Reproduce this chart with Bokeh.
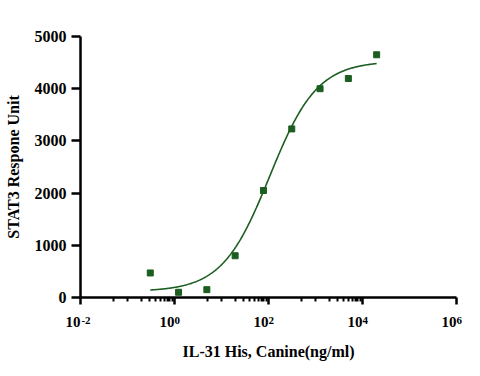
import numpy as np
from bokeh.plotting import figure
from bokeh.models import FixedTicker, Range1d, LogAxis
from bokeh.embed import file_html
from bokeh.resources import INLINE

# data
conc = [0.305, 1.22, 4.88, 19.5, 78.1, 312.5, 1250, 5000, 20000]
resp = [470, 100, 150, 800, 2050, 3230, 4000, 4195, 4650]

# 4PL fit parameters
fit_bottom = 115
fit_top = 4530
fit_ec50 = 106
fit_hill = 0.86

x_major = [1e-2, 1e0, 1e2, 1e4, 1e6]
x_exponents = ["-2", "0", "2", "4", "6"]
y_major = [0, 1000, 2000, 3000, 4000, 5000]

minor_mult = [5, 10, 20, 30, 40, 50, 60, 70, 80, 90]
x_minor = [m * b for b in [1e-2, 1e0, 1e2, 1e4] for m in [v / 100 for v in minor_mult]]

FONT = "Liberation Serif"
GREEN = "#1b5e20"
NBSP = "\u00a0"

p = figure(width=480, height=376, x_axis_type="log",
           x_range=Range1d(1e-2, 1e6), y_range=Range1d(0, 5000),
           output_backend="svg", toolbar_location=None,
           min_border_left=80, min_border_right=24,
           min_border_top=36, min_border_bottom=79)
p.outline_line_color = None
p.xgrid.visible = False
p.ygrid.visible = False

# fitted curve
xc = np.logspace(np.log10(conc[0]), np.log10(conc[-1]), 300)
yc = fit_bottom + (fit_top - fit_bottom) / (1 + (fit_ec50 / xc) ** fit_hill)
p.line(xc, yc, line_color=GREEN, line_width=1.6)

p.scatter(conc, resp, marker="square", size=6, fill_color=GREEN, line_color=GREEN)

# x axis: ticks + superscript exponents (left-aligned after the tick)
xa = p.xaxis[0]
xa.ticker = FixedTicker(ticks=x_major, minor_ticks=x_minor)
xa.major_label_overrides = {t: NBSP * (2 * len(e)) + e for t, e in zip(x_major, x_exponents)}
xa.axis_line_width = 2.5
xa.axis_line_color = "black"
xa.major_tick_line_width = 2.5
xa.minor_tick_line_width = 2
xa.major_tick_in = 0
xa.minor_tick_in = 0
xa.major_tick_out = 7
xa.minor_tick_out = 4
xa.major_label_standoff = 9
xa.major_label_text_font = FONT
xa.major_label_text_font_style = "bold"
xa.major_label_text_font_size = "11px"
xa.major_label_text_color = "black"

# second x axis: the base "10" (right-aligned on the tick) and the axis title
xb = LogAxis(ticker=FixedTicker(ticks=x_major, minor_ticks=[]))
xb.major_label_overrides = {t: "10" + NBSP * 4 for t in x_major}
xb.axis_line_color = None
xb.major_tick_line_color = None
xb.minor_tick_line_color = None
xb.major_tick_out = 0
xb.minor_tick_out = 0
xb.major_label_standoff = -15
xb.major_label_text_font = FONT
xb.major_label_text_font_style = "bold"
xb.major_label_text_font_size = "15px"
xb.major_label_text_color = "black"
xb.axis_label = "IL-31 His, Canine(ng/ml)"
xb.axis_label_standoff = 10
xb.axis_label_text_font = FONT
xb.axis_label_text_font_style = "bold"
xb.axis_label_text_font_size = "16px"
xb.axis_label_text_color = "black"
p.add_layout(xb, "below")

ya = p.yaxis[0]
ya.ticker = FixedTicker(ticks=y_major)
ya.axis_label = "STAT3 Respone Unit"
ya.axis_line_width = 2.5
ya.axis_line_color = "black"
ya.major_tick_line_width = 2.5
ya.major_tick_in = 0
ya.major_tick_out = 9
ya.minor_tick_out = 0
ya.minor_tick_in = 0
ya.major_label_standoff = 5
ya.major_label_text_font = FONT
ya.major_label_text_font_style = "bold"
ya.major_label_text_font_size = "16px"
ya.major_label_text_color = "black"
ya.axis_label_standoff = 10
ya.axis_label_text_font = FONT
ya.axis_label_text_font_style = "bold"
ya.axis_label_text_font_size = "16px"
ya.axis_label_text_color = "black"

open("out.html", "w").write(file_html(p, INLINE))
